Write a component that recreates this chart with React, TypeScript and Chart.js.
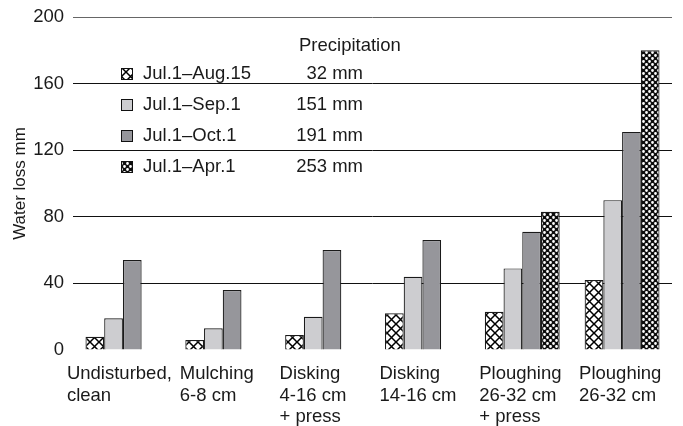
import React, { useEffect, useRef } from "react";
import { Chart, registerables } from "chart.js";

Chart.register(...registerables);

// ---- data ----
const categories: string[][] = [
  ["Undisturbed,", "clean"],
  ["Mulching", "6-8 cm"],
  ["Disking", "4-16 cm", "+ press"],
  ["Disking", "14-16 cm"],
  ["Ploughing", "26-32 cm", "+ press"],
  ["Ploughing", "26-32 cm"],
];
const periods = ["Jul.1–Aug.15", "Jul.1–Sep.1", "Jul.1–Oct.1", "Jul.1–Apr.1"];
const precipitation = ["32 mm", "151 mm", "191 mm", "253 mm"];
const precipitationTitle = "Precipitation";
const lossAug15 = [8, 6, 9, 22, 23, 42];
const lossSep1 = [19, 13, 20, 44, 49, 90];
const lossOct1 = [54, 36, 60, 66, 71, 131];
const lossApr1 = [null, null, null, null, 83, 180];
const yMin = 0;
const yMax = 200;
const yStep = 40;
const yTitle = "Water loss mm";

const FAMILY = '"Liberation Sans", Arial, Helvetica, sans-serif';
const TEXT = "#1a1a1a";
const FONT_SIZE = 18.5;

function makeCross(ctx: CanvasRenderingContext2D) {
  const c = document.createElement("canvas");
  c.width = 9;
  c.height = 9;
  const g = c.getContext("2d")!;
  g.fillStyle = "#ffffff";
  g.fillRect(0, 0, 9, 9);
  g.strokeStyle = "#000000";
  g.lineWidth = 1.5;
  g.beginPath();
  g.moveTo(-1, -1);
  g.lineTo(10, 10);
  g.moveTo(10, -1);
  g.lineTo(-1, 10);
  g.stroke();
  return ctx.createPattern(c, "repeat")!;
}

function makeChecker(ctx: CanvasRenderingContext2D) {
  const c = document.createElement("canvas");
  c.width = 6;
  c.height = 6;
  const g = c.getContext("2d")!;
  g.fillStyle = "#0d0d0d";
  g.fillRect(0, 0, 6, 6);
  g.fillStyle = "#ffffff";
  g.beginPath();
  g.arc(1.5, 1.5, 1.4, 0, Math.PI * 2);
  g.arc(4.5, 4.5, 1.4, 0, Math.PI * 2);
  g.fill();
  return ctx.createPattern(c, "repeat")!;
}

export default function App() {
  const ref = useRef<HTMLCanvasElement>(null);

  useEffect(() => {
    document.body.style.margin = "0";
    const canvas = ref.current!;
    const ctx = canvas.getContext("2d")!;
    const cross = makeCross(ctx);
    const checker = makeChecker(ctx);

    const annot = {
      id: "annot",
      afterDraw(chart: any) {
        const c: CanvasRenderingContext2D = chart.ctx;
        const xs = chart.scales.x;
        const bottom = chart.chartArea.bottom;
        c.save();
        c.font = `${FONT_SIZE}px ${FAMILY}`;
        c.fillStyle = TEXT;
        c.textAlign = "left";
        c.textBaseline = "alphabetic";
        categories.forEach((lines, i) => {
          const px = xs.getPixelForValue(i) + (i === 0 ? -56 : -43);
          lines.forEach((line, j) => c.fillText(line, px, bottom + 29 + j * 21.5));
        });
        // legend
        c.textBaseline = "middle";
        c.fillText(precipitationTitle, 299, 46);
        chart.data.datasets.forEach((ds: any, i: number) => {
          const y = 74 + i * 31;
          c.fillStyle = ds.backgroundColor;
          c.fillRect(121.5, y - 5.5, 11, 11);
          c.strokeStyle = "#111";
          c.lineWidth = 1;
          c.strokeRect(121.5, y - 5.5, 11, 11);
          c.fillStyle = TEXT;
          c.textAlign = "left";
          c.fillText(ds.label, 143, y);
          c.textAlign = "right";
          c.fillText(precipitation[i], 363, y);
        });
        c.restore();
      },
    };

    const common = { borderColor: "#1a1a1a", borderWidth: 1.2, categoryPercentage: 0.75, barPercentage: 1 };

    const chart = new Chart(canvas, {
      type: "bar",
      data: {
        labels: categories.map((l) => l.join(" ")),
        datasets: [
          { label: periods[0], data: lossAug15, backgroundColor: cross as any, ...common },
          { label: periods[1], data: lossSep1, backgroundColor: "#cdcdd0", ...common },
          { label: periods[2], data: lossOct1, backgroundColor: "#96969b", ...common },
          { label: periods[3], data: lossApr1 as any, backgroundColor: checker as any, ...common },
        ],
      },
      options: {
        animation: false,
        responsive: true,
        maintainAspectRatio: false,
        layout: { padding: { left: 0, right: 11, top: 17, bottom: 76 } },
        plugins: { legend: { display: false }, tooltip: { enabled: false } },
        scales: {
          x: {
            display: false,
            grid: { display: false },
          },
          y: {
            min: yMin,
            max: yMax,
            afterFit: (s: any) => {
              s.width = 73;
              s.paddingTop = 0;
              s.paddingBottom = 0;
            },
            border: { display: false },
            grid: {
              drawTicks: false,
              lineWidth: 1,
              color: (c: any) =>
                c.tick && c.tick.value === 0 ? "rgba(0,0,0,0)" : c.tick && c.tick.value === yMax ? "#666" : "#111",
            },
            ticks: {
              stepSize: yStep,
              padding: 9,
              color: TEXT,
              font: { family: FAMILY, size: FONT_SIZE },
            },
            title: {
              display: true,
              text: yTitle,
              color: TEXT,
              font: { family: FAMILY, size: 17 },
              padding: { top: 10, bottom: 0 },
            },
          },
        },
      },
      plugins: [annot],
    });
    return () => chart.destroy();
  }, []);

  return (
    <div style={{ position: "relative", width: 683, height: 426 }}>
      <canvas ref={ref} />
    </div>
  );
}
